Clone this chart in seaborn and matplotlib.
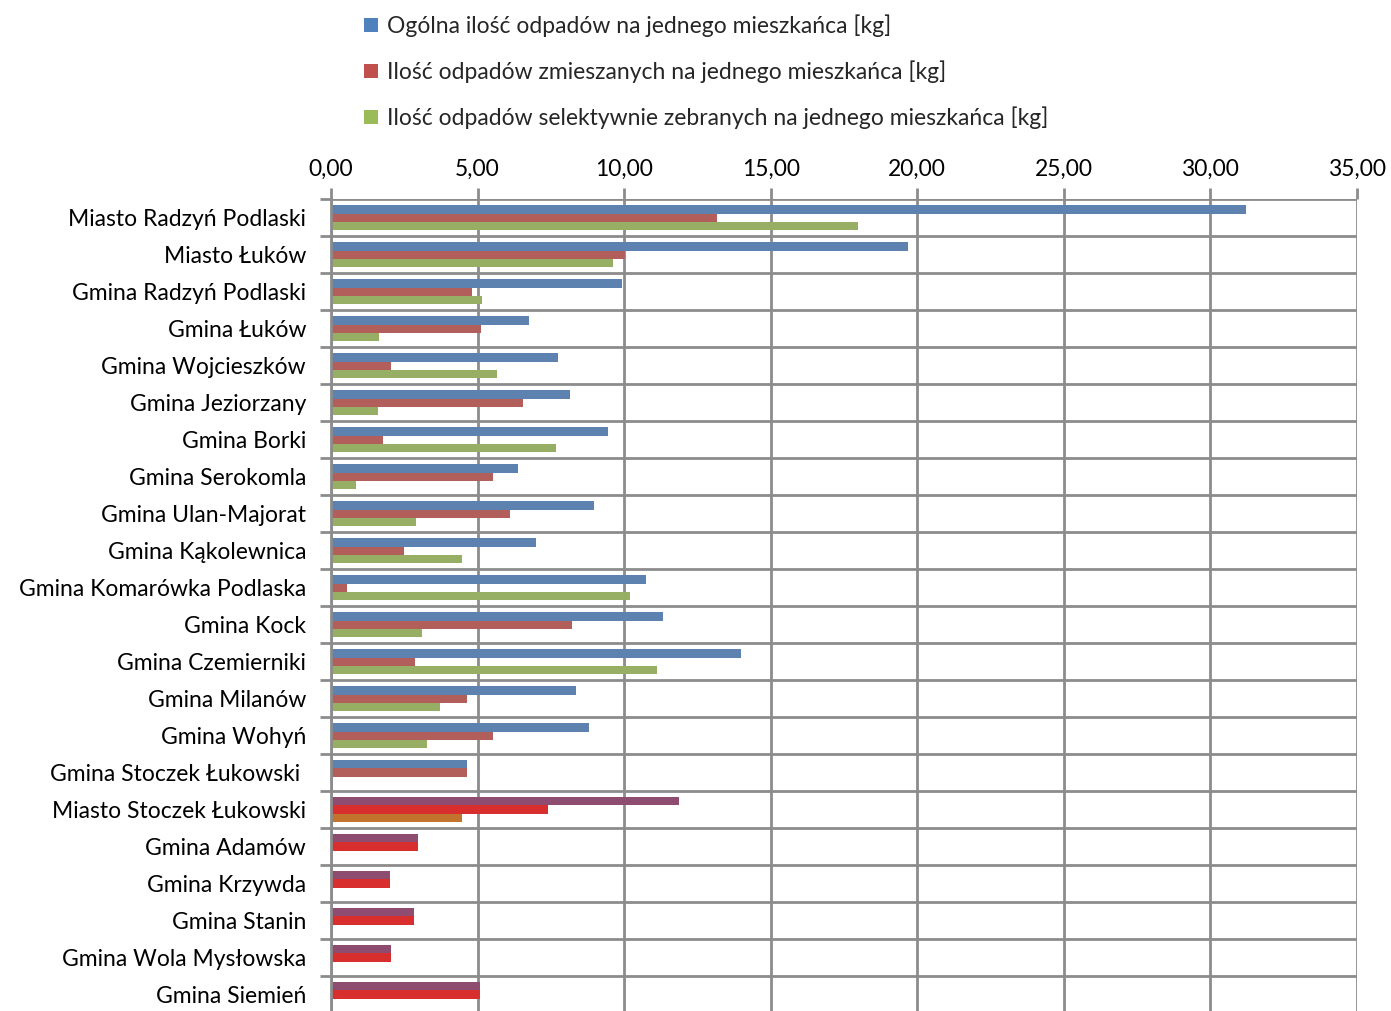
"""Odpady na jednego mieszkańca - wykres słupkowy poziomy."""

import matplotlib

matplotlib.use("Agg")
import matplotlib.pyplot as plt
import matplotlib.ticker as mticker
import numpy as np
import pandas as pd
import seaborn as sns
from matplotlib.patches import Patch

GMINY = [
    "Miasto Radzyń Podlaski",
    "Miasto Łuków",
    "Gmina Radzyń Podlaski",
    "Gmina Łuków",
    "Gmina Wojcieszków",
    "Gmina Jeziorzany",
    "Gmina Borki",
    "Gmina Serokomla",
    "Gmina Ulan-Majorat",
    "Gmina Kąkolewnica",
    "Gmina Komarówka Podlaska",
    "Gmina Kock",
    "Gmina Czemierniki",
    "Gmina Milanów",
    "Gmina Wohyń",
    "Gmina Stoczek Łukowski ",
    "Miasto Stoczek Łukowski",
    "Gmina Adamów",
    "Gmina Krzywda",
    "Gmina Stanin",
    "Gmina Wola Mysłowska",
    "Gmina Siemień",
]

OGOLNA = [31.22, 19.69, 9.93, 6.76, 7.73, 8.15, 9.45, 6.38, 8.97, 6.99, 10.75,
          11.34, 13.98, 8.36, 8.81, 4.64, 11.86, 2.98, 2.01, 2.84, 2.05, 5.09]
ZMIESZANE = [13.17, 10.03, 4.80, 5.12, 2.05, 6.55, 1.77, 5.53, 6.11, 2.49, 0.54,
             8.22, 2.86, 4.65, 5.54, 4.64, 7.40, 2.98, 2.01, 2.84, 2.05, 5.09]
SELEKTYWNE = [17.98, 9.62, 5.14, 1.64, 5.67, 1.60, 7.68, 0.85, 2.90, 4.47, 10.21,
              3.10, 11.11, 3.70, 3.28, 0.0, 4.48, 0.0, 0.0, 0.0, 0.0, 0.0]

SERIE = [
    "Ogólna ilość odpadów na jednego mieszkańca [kg]",
    "Ilość odpadów zmieszanych na jednego mieszkańca [kg]",
    "Ilość odpadów selektywnie zebranych na jednego mieszkańca [kg]",
]

KOLORY = ["#4F81BD", "#C0504D", "#9BBB59"]
KOLORY_DOL = ["#8E4C70", "#D92E2E", "#C2742F"]  # ostatnie wiersze mają inny styl
PIERWSZY_INNY = 16
FS = 16.5

df = pd.DataFrame({"gmina": GMINY, SERIE[0]: OGOLNA, SERIE[1]: ZMIESZANE, SERIE[2]: SELEKTYWNE})
long = df.melt(id_vars="gmina", var_name="seria", value_name="kg")

sns.set_theme(style="white")
plt.rcParams["font.family"] = ["Lato", "DejaVu Sans"]

fig = plt.figure(figsize=(13.91, 10.11), dpi=100)
ax = fig.add_axes([0.238, -0.002, 0.7375, 0.805])

sns.barplot(
    data=long, y="gmina", x="kg", hue="seria", orient="h",
    order=GMINY, hue_order=SERIE, palette=KOLORY,
    width=0.66, dodge=True, ax=ax, legend=False,
    edgecolor="none", linewidth=0,
)

for i, cont in enumerate(ax.containers):
    for j, bar in enumerate(cont):
        if j >= PIERWSZY_INNY:
            bar.set_facecolor(KOLORY_DOL[i])

ax.set_xlim(0, 35)
ax.set_ylim(len(GMINY) - 0.5, -0.5)
ax.xaxis.tick_top()
ax.xaxis.set_major_locator(mticker.MultipleLocator(5))
ax.xaxis.set_major_formatter(mticker.FuncFormatter(lambda v, _: f"{v:.2f}".replace(".", ",")))
ax.set_yticks(np.arange(len(GMINY)))
ax.set_yticks(np.arange(len(GMINY)) - 0.5, minor=True)
ax.tick_params(axis="x", which="major", direction="out", length=8, width=2, color="#8C8C8C",
               labelsize=FS, pad=6, colors="#8C8C8C", labelcolor="black")
ax.tick_params(axis="y", which="major", length=0, labelsize=FS, pad=18, labelcolor="black")
ax.tick_params(axis="y", which="minor", direction="out", length=8, width=2, color="#8C8C8C", left=True)
ax.set_xlabel("")
ax.set_ylabel("")

ax.grid(axis="x", which="major", color="#8C8C8C", linewidth=2)
ax.grid(axis="y", which="minor", color="#8C8C8C", linewidth=2)
ax.grid(axis="y", which="major", visible=False)
ax.set_axisbelow(True)
for side in ["right", "bottom", "top"]:
    ax.spines[side].set_visible(False)
ax.spines["left"].set_color("#8C8C8C")
ax.spines["left"].set_linewidth(2)

handles = [Patch(facecolor=c, edgecolor="none") for c in KOLORY]
fig.legend(
    handles, SERIE, loc="upper left", bbox_to_anchor=(0.247, 1.006), frameon=False,
    fontsize=FS, handlelength=0.6, handleheight=0.6, handletextpad=0.4, labelspacing=1.02,
)

fig.savefig("out.png", dpi=100)
